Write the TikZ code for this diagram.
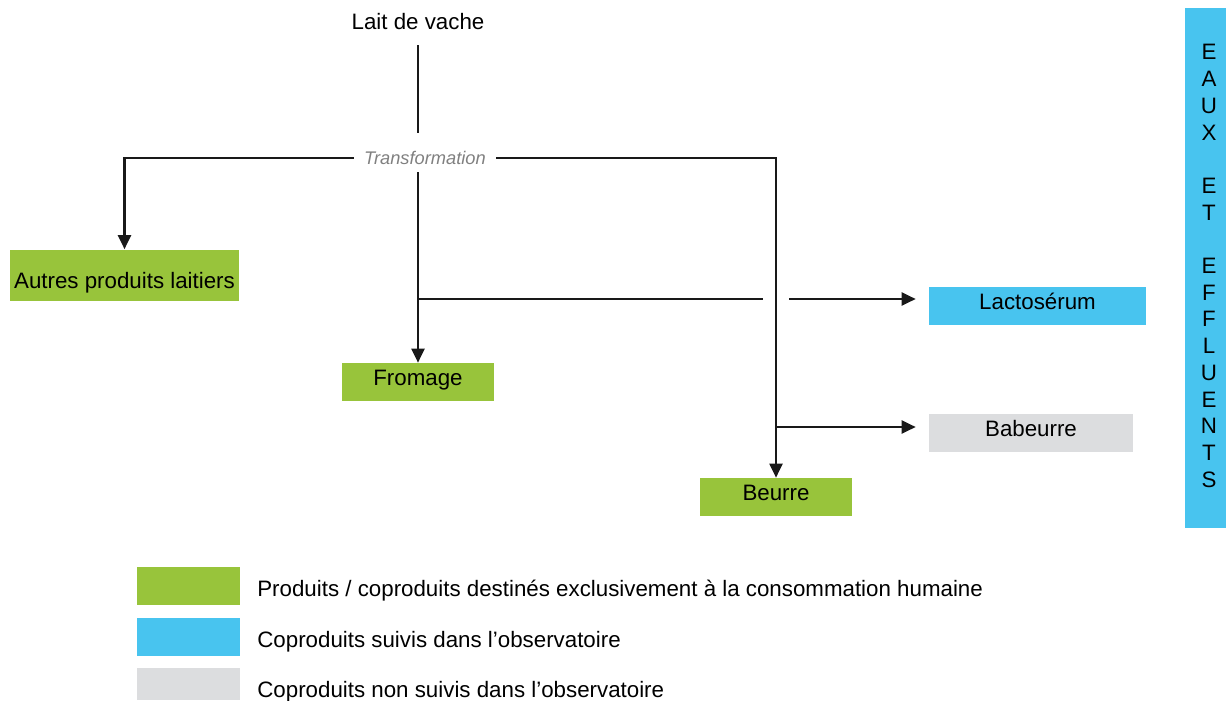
\documentclass[tikz,border=0pt]{standalone}
\usepackage{fontspec}
\setmainfont{Liberation Sans}
\usetikzlibrary{arrows.meta,positioning}
\definecolor{prodgreen}{HTML}{98C43B}
\definecolor{coblue}{HTML}{48C4EF}
\definecolor{cogray}{HTML}{DCDDDF}

\begin{document}
\begin{tikzpicture}[
  x=0.02cm, y=-0.02cm,
  every node/.style={font=\fontsize{12.7}{15}\selectfont},
  box/.style={rectangle, inner sep=0pt, minimum height=0.76cm, align=center, text height=9.5pt, text depth=5pt},
  legbox/.style={rectangle, inner sep=0pt, minimum width=2.06cm, minimum height=0.76cm},
  legtext/.style={anchor=west, inner sep=0pt},
  trlabel/.style={font=\fontsize{10.4}{12}\selectfont\itshape, text=black!50, inner xsep=0.2cm, inner ysep=0pt},
  link/.style={line width=1.2pt, black!90},
  arrow/.style={link, -{Triangle[length=0.28cm, width=0.26cm]}}
]
\useasboundingbox (0,0) rectangle (1226,700);

% flow
\node (lait) at (418,22) {Lait de vache};
\node[trlabel] (tr) at (425,158) {Transformation};
\coordinate (split) at (418,133);
\coordinate (below) at (418,172);

\node[box, fill=prodgreen, minimum width=4.58cm, minimum height=1.02cm, text height=15.3pt, text depth=0pt] (autres) at (124.5,275) {Autres produits laitiers};
\node[box, fill=prodgreen, minimum width=3.06cm] (fromage) at (418,382) {Fromage};
\node[box, fill=prodgreen, minimum width=3.06cm] (beurre) at (776,497) {Beurre};
\node[box, fill=coblue, minimum width=4.34cm] (lacto) at (1037.5,306) {Lactosérum};
\node[box, fill=cogray, minimum width=4.08cm] (babeurre) at (1031,433) {Babeurre};

\draw[link] (lait) ++(0,23) -- (split);
\draw[arrow] (tr.west) -| (autres.north);
\draw[arrow] (tr.east) -| (beurre.north);
\draw[arrow] (below) -- (fromage.north);

\coordinate (lactofork) at (418,299);
\coordinate (gapl) at (763,299);
\coordinate (gapr) at (789,299);
\draw[link, line width=0.8pt] (lactofork) -- (gapl);
\draw[arrow, shorten >=0.26cm] (gapr) -- (gapr -| lacto.west);

\coordinate (bfork) at (776,427);
\draw[arrow, shorten >=0.26cm] (bfork) -- (bfork -| babeurre.west);

% side bar
\node[rectangle, fill=coblue, minimum width=0.82cm, minimum height=10.4cm, inner sep=0pt] (bar) at (1205.5,268) {};
\node[align=center, font=\fontsize{12.7}{15.2}\selectfont] (eaux) at (1209,266)
  {E\\A\\U\\X\\~\\E\\T\\~\\E\\F\\F\\L\\U\\E\\N\\T\\S};

% legend
\node[legbox, fill=prodgreen] (kgreen) at (188.5,586) {};
\node[legbox, fill=coblue] (kblue) at (188.5,637) {};
\node[legbox, fill=cogray, minimum height=0.64cm] (kgray) at (188.5,684) {};
\node[legtext] (tgreen) at (257,591) {Produits / coproduits destinés exclusivement à la consommation humaine};
\node[legtext] (tblue) at (257,642) {Coproduits suivis dans l’observatoire};
\node[legtext] (tgray) at (257,692) {Coproduits non suivis dans l’observatoire};
\end{tikzpicture}
\end{document}
